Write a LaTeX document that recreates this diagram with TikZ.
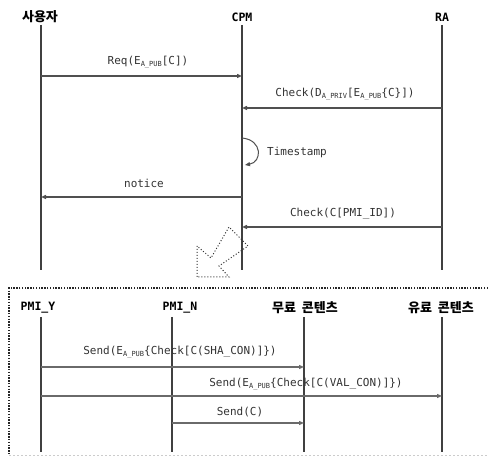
\documentclass[tikz,border=0pt]{standalone}
\usepackage{fontspec}
\usetikzlibrary{arrows.meta}
\newfontfamily\mono{DejaVu Sans Mono}
\newfontfamily\kr{Noto Sans CJK KR}
\newcommand{\sbx}[1]{\raisebox{-0.35ex}{\fontsize{7}{7}\selectfont #1}}
\definecolor{lline}{HTML}{404040}
\definecolor{mline}{HTML}{505050}
\definecolor{txt}{HTML}{333333}
\tikzset{
  lifeline/.style={draw=lline, line width=1.8pt},
  msg/.style={draw=mline, line width=1.3pt, -{Triangle[length=5pt,width=4pt]}},
  msgl/.style={draw=mline!85, line width=1.1pt, -{Triangle[length=5pt,width=4pt]}},
  mlabel/.style={font=\mono\fontsize{11}{12}\selectfont, text=txt, inner sep=1pt},
  head/.style={font=\mono\bfseries\fontsize{11.5}{12}\selectfont, inner sep=1pt},
  khead/.style={font=\kr\bfseries\fontsize{13}{14}\selectfont, inner sep=1pt},
}
\begin{document}
\begin{tikzpicture}[x=1pt, y=-1pt]
\useasboundingbox[fill=white] (0,0) rectangle (488,457);
% headers top
\node[khead] (user) at (40,17) {사용자};
\node[head] (cpm) at (242,17) {CPM};
\node[head] (ra) at (442,17) {RA};
% lifeline ends
\coordinate (ut) at (41,25); \coordinate (ub) at (41,270);
\coordinate (ct) at (242,25); \coordinate (cb) at (242,270);
\coordinate (rt) at (442,25); \coordinate (rb) at (442,270);
\draw[lifeline] (ut) -- (ub);
\draw[lifeline] (ct) -- (cb);
\draw[lifeline] (rt) -- (rb);
% messages top
\coordinate (u1) at (41,76); \coordinate (c1) at (242,76);
\draw[msg] (u1) -- (c1);
\node[mlabel] (l1) at (148,62) {Req(E\sbx{A\_PUB}[C])};
\coordinate (r2) at (442,108); \coordinate (c2) at (242,108);
\draw[msg] (r2) -- (c2);
\node[mlabel] (l2) at (345,94) {Check(D\sbx{A\_PRIV}[E\sbx{A\_PUB}\{C\}])};
\coordinate (c3a) at (242,138); \coordinate (c3b) at (245,165);
\draw[msg, line width=1pt] (c3a) .. controls (263,140) and (262,162) .. (c3b);
\node[mlabel] (l3) at (297,152) {Timestamp};
\coordinate (c4) at (242,197); \coordinate (u4) at (41,197);
\draw[msg] (c4) -- (u4);
\node[mlabel] (l4) at (144,183) {notice};
\coordinate (r5) at (442,227); \coordinate (c5) at (242,227);
\draw[msg] (r5) -- (c5);
\node[mlabel] (l5) at (343,214) {Check(C[PMI\_ID])};
% dotted big arrow
\draw[black!80, line width=1pt, dotted] (197,277) -- (197,246) -- (211,258) -- (229,227) -- (248,246) -- (219,266) -- (229,277) -- cycle;
% bottom frame
\draw[black!85, line width=1.8pt, dash pattern=on 1.4pt off 1.4pt] (488,288) -- (9,288) -- (9,455);
\draw[black!20, line width=0.8pt, dash pattern=on 2pt off 2pt] (9,455) -- (488,455);
% headers bottom
\node[head] (py) at (38,308) {PMI\_Y};
\node[head] (pn) at (180,308) {PMI\_N};
\node[khead] (free) at (305,308) {무료\hspace{0.45em}콘텐츠};
\node[khead] (paid) at (441,308) {유료\hspace{0.45em}콘텐츠};
\coordinate (pyt) at (41,317); \coordinate (pyb) at (41,452);
\coordinate (pnt) at (172,317); \coordinate (pnb) at (172,452);
\coordinate (ft) at (304,317); \coordinate (fb) at (304,452);
\coordinate (pt) at (442,317); \coordinate (pb) at (442,452);
\draw[lifeline] (pyt) -- (pyb);
\draw[lifeline] (pnt) -- (pnb);
\draw[lifeline] (ft) -- (fb);
\draw[lifeline] (pt) -- (pb);
% messages bottom
\coordinate (m1a) at (41,367); \coordinate (m1b) at (304,367);
\draw[msgl] (m1a) -- (m1b);
\node[mlabel] (b1) at (180,352) {Send(E\sbx{A\_PUB}\{Check[C(SHA\_CON)]\})};
\coordinate (m2a) at (41,396); \coordinate (m2b) at (442,396);
\draw[msgl] (m2a) -- (m2b);
\node[mlabel] (b2) at (306,384) {Send(E\sbx{A\_PUB}\{Check[C(VAL\_CON)]\})};
\coordinate (m3a) at (172,423); \coordinate (m3b) at (304,423);
\draw[msgl] (m3a) -- (m3b);
\node[mlabel] (b3) at (240,412) {Send(C)};
\end{tikzpicture}
\end{document}
